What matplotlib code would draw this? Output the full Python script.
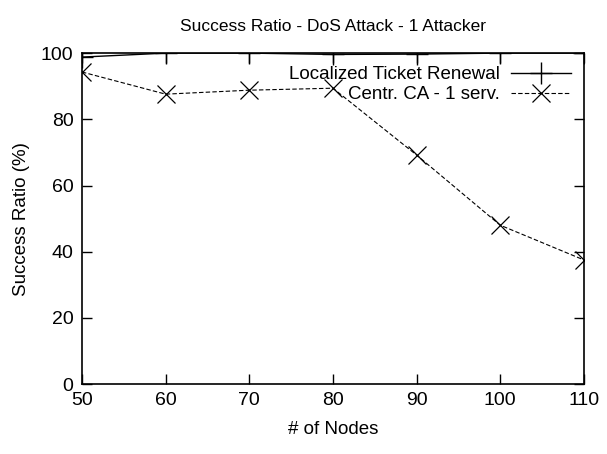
import matplotlib
matplotlib.use("Agg")
import matplotlib.pyplot as plt

nodes = [50, 60, 70, 80, 90, 100, 110]
localized = [98.8, 100, 100, 99.6, 99.7, 100, 100]
centr = [94.3, 87.6, 88.8, 89.4, 69.2, 48.0, 37.5]
xticks = [50, 60, 70, 80, 90, 100, 110]
yticks = [0, 20, 40, 60, 80, 100]

plt.rcParams['font.family'] = ['Liberation Sans', 'DejaVu Sans']

fig = plt.figure(figsize=(6.07, 4.54), dpi=100)
ax = fig.add_axes([0.135, 0.154, 0.827, 0.729])
ax.plot(nodes, localized, color='black', lw=1.0, marker='+', ms=16, mew=1.0,
        label='Localized Ticket Renewal')
ax.plot(nodes, centr, color='black', lw=0.8, ls=(0, (4, 2)), marker='x', ms=13, mew=0.9,
        label='Centr. CA - 1 serv.')
ax.set_xlim(50, 110)
ax.set_ylim(0, 100)
ax.set_xticks(xticks)
ax.set_yticks(yticks)
ax.tick_params(direction='in', length=7, width=1, top=True, right=True, labelsize=14, pad=6)
for s in ax.spines.values():
    s.set_linewidth(1.2)
ax.set_xlabel('# of Nodes', fontsize=13.5, labelpad=8)
ax.set_ylabel('Success Ratio (%)', fontsize=13.5, labelpad=8)
ax.set_title('Success Ratio - DoS Attack - 1 Attacker', fontsize=12.5, pad=16)
leg = ax.legend(loc='upper right', frameon=False, markerfirst=False, fontsize=13.5,
                handlelength=3.2, borderaxespad=0.3, labelspacing=0.15, handletextpad=0.6)
for t in leg.get_texts():
    t.set_ha('right')
fig.savefig('out.png', dpi=100)
